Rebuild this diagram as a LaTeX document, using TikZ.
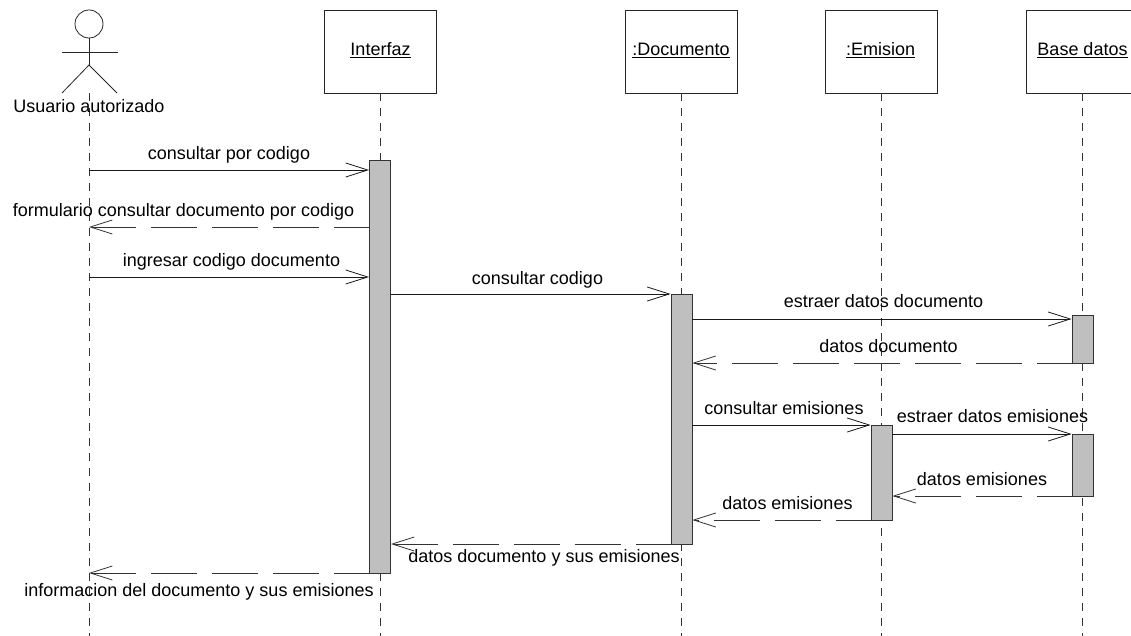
\documentclass[tikz,border=0pt]{standalone}
\usepackage{fontspec}
\setmainfont{Liberation Sans}
\usepackage{tikz}
\usetikzlibrary{arrows.meta,calc}
\begin{document}
\begin{tikzpicture}[x=1pt,y=-1pt,
  obj/.style={draw=black!85,line width=0.9pt,fill=white,minimum width=112pt,minimum height=83pt,inner sep=0pt},
  act/.style={draw=black!80,line width=0.9pt,fill=black!25,minimum width=21pt,inner sep=0pt},
  life/.style={draw=black!80,line width=0.8pt,dash pattern=on 8pt off 7pt},
  msg/.style={draw=black!90,line width=0.8pt,-{Straight Barb[length=22pt,width=14pt]}},
  ret/.style={draw=black!80,line width=0.8pt,dash pattern=on 46pt off 15pt,dash phase=11pt,-{Straight Barb[length=22pt,width=14pt]}},
  lab/.style={font=\fontsize{18}{20}\selectfont,inner sep=0pt,anchor=base},
  stick/.style={draw=black!85,line width=0.8pt}]
\useasboundingbox (0,0) rectangle (1131,636);
\pgfmathsetmacro{\R}{14}
\coordinate (usuario) at (89,93);
\coordinate (usuarioEnd) at (89,636);
\coordinate (interfazEnd) at (380.5,636);
\coordinate (documentoEnd) at (681.5,636);
\coordinate (emisionEnd) at (881.5,636);
\coordinate (baseEnd) at (1082.5,636);
\node[obj] (interfaz) at (380.5,51.5) {};
\node[obj] (documento) at (681.5,51.5) {};
\node[obj] (emision) at (881.5,51.5) {};
\node[obj] (base) at (1082.5,51.5) {};
\draw[life] (usuario) -- (usuarioEnd);
\draw[life] (interfaz.south) -- (interfazEnd);
\draw[life] (documento.south) -- (documentoEnd);
\draw[life] (emision.south) -- (emisionEnd);
\draw[life] (base.south) -- (baseEnd);
\node[lab] (interfazLab) at (380.5,55.5) {\underline{Interfaz}};
\node[lab] (documentoLab) at (681,55.5) {\underline{:Documento}};
\node[lab] (emisionLab) at (880.5,55.5) {\underline{:Emision}};
\node[lab] (baseLab) at (1082.5,55.5) {\underline{Base datos}};
\draw[stick] (89,24) circle (\R);
\draw[stick] (89,38) -- (89,65);
\draw[stick] (62,52) -- (118,52);
\draw[stick] (62,93) -- (89,65) -- (117,93);
\node[lab] (usuarioLab) at (89,113) {Usuario autorizado};
\node[act,minimum height=413pt] (actInterfaz) at (380,366.5) {};
\node[act,minimum height=250pt] (actDocumento) at (681.5,419) {};
\node[act,minimum height=48pt] (actBase) at (1082.5,339) {};
\node[act,minimum height=95pt] (actEmision) at (881.5,472.5) {};
\node[act,minimum height=62pt] (actBaseDos) at (1082.5,465) {};
\draw[msg] (usuario |- 0,170) -- (actInterfaz.west |- 0,170);
\draw[ret] (actInterfaz.west |- 0,227) -- (usuario |- 0,227);
\draw[msg] (usuario |- 0,277) -- (actInterfaz.west |- 0,277);
\draw[msg] (actInterfaz.east |- 0,294) -- (actDocumento.west |- 0,294);
\draw[msg] (actDocumento.east |- 0,319) -- (actBase.west |- 0,319);
\draw[ret] (actBase.west |- 0,363) -- (actDocumento.east |- 0,363);
\draw[msg] (actDocumento.east |- 0,425) -- (actEmision.west |- 0,425);
\draw[msg] (actEmision.east |- 0,434) -- (actBaseDos.west |- 0,434);
\draw[ret] (actBaseDos.west |- 0,496) -- (actEmision.east |- 0,496);
\draw[ret] (actEmision.west |- 0,520) -- (actDocumento.east |- 0,520);
\draw[ret] (actDocumento.west |- 0,544) -- (actInterfaz.east |- 0,544);
\draw[ret] (actInterfaz.west |- 0,573) -- (usuario |- 0,573);
\node[lab] (m1) at (229,160) {consultar por codigo};
\node[lab] (m2) at (183.5,217) {formulario consultar documento por codigo};
\node[lab] (m3) at (231.5,266) {ingresar codigo documento};
\node[lab] (m4) at (537.5,284) {consultar codigo};
\node[lab] (m5) at (883.5,307) {estraer datos documento};
\node[lab] (m6) at (888.5,352) {datos documento};
\node[lab] (m7) at (784,414) {consultar emisiones};
\node[lab] (m8) at (992.5,422) {estraer datos emisiones};
\node[lab] (m9) at (982,485) {datos emisiones};
\node[lab] (m10) at (787.5,509) {datos emisiones};
\node[lab] (m11) at (544,562) {datos documento y sus emisiones};
\node[lab] (m12) at (199,596) {informacion del documento y sus emisiones};
\end{tikzpicture}
\end{document}
